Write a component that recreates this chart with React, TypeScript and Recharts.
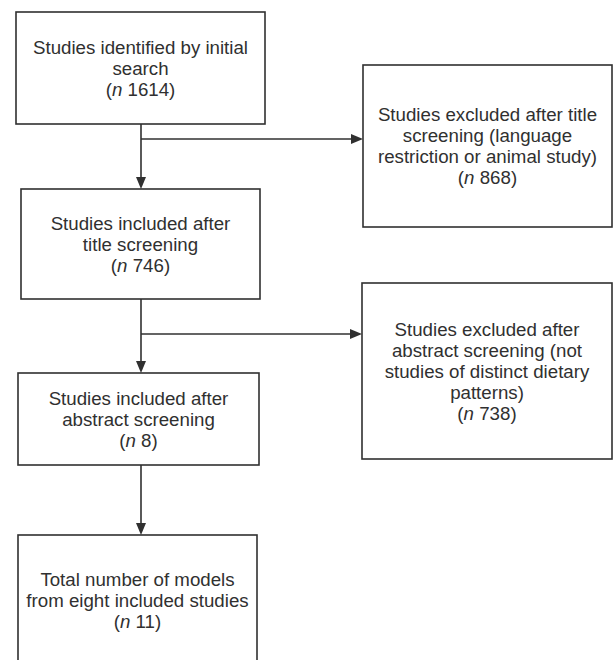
import { ScatterChart, XAxis, YAxis, ReferenceArea, ReferenceLine } from 'recharts';

// flowchart content
const stageLines = [
  ['Studies identified by initial', 'search'],
  ['Studies included after', 'title screening'],
  ['Studies included after', 'abstract screening'],
  ['Total number of models', 'from eight included studies'],
];
const stageCounts = [1614, 746, 8, 11];

const excludedLines = [
  ['Studies excluded after title', 'screening (language', 'restriction or animal study)'],
  ['Studies excluded after', 'abstract screening (not', 'studies of distinct dietary', 'patterns)'],
];
const excludedCounts = [868, 738];

// layout in chart units (x 0..616, y 0..660 top-down)
const stageBoxes = [
  { x1: 16, x2: 265, y1: 12, y2: 124 },
  { x1: 21, x2: 260, y1: 189, y2: 299 },
  { x1: 18, x2: 259, y1: 373, y2: 465 },
  { x1: 18, x2: 257, y1: 535, y2: 666 },
];
const excludedBoxes = [
  { x1: 363, x2: 612, y1: 65, y2: 227 },
  { x1: 362, x2: 612, y1: 283, y2: 459 },
];
const trunkX = 141;
const branchY = [139, 334];

const INK = '#303030';
const FONT = '"Liberation Sans", Arial, Helvetica, sans-serif';
const FONT_SIZE = 18.7;
const LINE_H = 21;

function makeBox(lines: string[], count: number) {
  return (props: any) => {
    const { x, y, width, height } = props;
    const all = lines.length + 1;
    const cx = x + width / 2;
    const top = y + height / 2 - ((all - 1) * LINE_H) / 2;
    return (
      <g>
        <rect x={x} y={y} width={width} height={height} fill="#fff" stroke={INK} strokeWidth={1.6} />
        <text textAnchor="middle" fontFamily={FONT} fontSize={FONT_SIZE} fill={INK}>
          {lines.map((l, i) => (
            <tspan key={i} x={cx} y={top + i * LINE_H} dominantBaseline="central">
              {l}
            </tspan>
          ))}
          <tspan x={cx} y={top + lines.length * LINE_H} dominantBaseline="central">
            (<tspan fontStyle="italic">n</tspan> {count})
          </tspan>
        </text>
      </g>
    );
  };
}

function arrowShape(props: any) {
  const { x1, y1, x2, y2 } = props;
  const dx = x2 - x1;
  const dy = y2 - y1;
  const len = Math.sqrt(dx * dx + dy * dy) || 1;
  const ux = dx / len;
  const uy = dy / len;
  const hl = 12;
  const hw = 5;
  const bx = x2 - ux * hl;
  const by = y2 - uy * hl;
  return (
    <g>
      <line x1={x1} y1={y1} x2={bx} y2={by} stroke={INK} strokeWidth={1.6} />
      <polygon
        points={`${x2},${y2} ${bx - uy * hw},${by + ux * hw} ${bx + uy * hw},${by - ux * hw}`}
        fill={INK}
      />
    </g>
  );
}

export default function App() {
  return (
    <div style={{ position: 'absolute', left: 0, top: 0, background: '#fff' }}>
      <ScatterChart width={616} height={660} margin={{ top: 0, right: 0, bottom: 0, left: 0 }}>
        <XAxis type="number" dataKey="x" domain={[0, 616]} hide allowDataOverflow />
        <YAxis type="number" dataKey="y" domain={[0, 660]} reversed hide allowDataOverflow />

        {/* vertical arrows between stages */}
        {stageBoxes.slice(1).map((b, i) => (
          <ReferenceLine
            key={`v${i}`}
            ifOverflow="visible"
            segment={[
              { x: trunkX, y: stageBoxes[i].y2 },
              { x: trunkX, y: b.y1 },
            ]}
            shape={arrowShape}
          />
        ))}

        {/* side arrows to exclusions */}
        {excludedBoxes.map((b, i) => (
          <ReferenceLine
            key={`h${i}`}
            ifOverflow="visible"
            segment={[
              { x: trunkX, y: branchY[i] },
              { x: b.x1, y: branchY[i] },
            ]}
            shape={arrowShape}
          />
        ))}

        {stageBoxes.map((b, i) => (
          <ReferenceArea
            key={`s${i}`}
            ifOverflow="visible"
            x1={b.x1}
            x2={b.x2}
            y1={b.y1}
            y2={b.y2}
            shape={makeBox(stageLines[i], stageCounts[i])}
          />
        ))}
        {excludedBoxes.map((b, i) => (
          <ReferenceArea
            key={`e${i}`}
            ifOverflow="visible"
            x1={b.x1}
            x2={b.x2}
            y1={b.y1}
            y2={b.y2}
            shape={makeBox(excludedLines[i], excludedCounts[i])}
          />
        ))}
      </ScatterChart>
    </div>
  );
}
